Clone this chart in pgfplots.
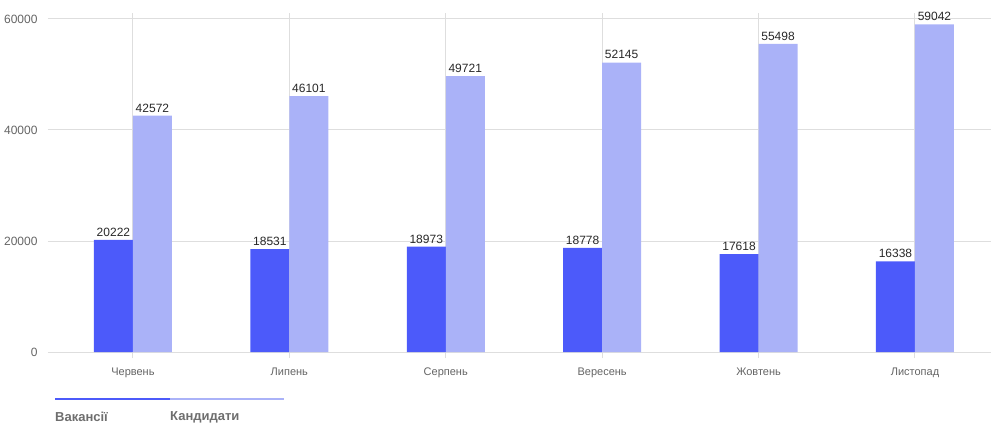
\documentclass[border=0pt]{standalone}
\usepackage{pgfplots}
\pgfplotsset{compat=1.18}
\usepackage{fontspec}
\setmainfont{Liberation Sans}
\definecolor{vac}{RGB}{76,90,250}
\definecolor{cand}{RGB}{170,178,248}
\definecolor{gridc}{RGB}{222,222,222}
\definecolor{tickc}{RGB}{100,100,100}
\definecolor{labc}{RGB}{40,40,40}
\definecolor{legc}{RGB}{110,110,110}
\begin{document}
\begin{tikzpicture}[x=1pt,y=1pt]
\useasboundingbox (-48,-72) rectangle (943,352);
\begin{axis}[
  at={(0,0)}, anchor=south west,
  scale only axis, width=943pt, height=339pt,
  xmin=-0.543, xmax=5.486,
  ymin=0, ymax=61080,
  xtick={0,1,2,3,4,5},
  xticklabels={Червень,Липень,Серпень,Вересень,Жовтень,Листопад},
  ytick={0,20000,40000,60000},
  scaled y ticks=false,
  yticklabel style={/pgf/number format/fixed,/pgf/number format/set thousands separator={},/pgf/number format/assume math mode=true, font=\fontsize{12}{14}\selectfont, text=tickc, xshift=-1pt},
  xticklabel style={font=\fontsize{11}{13}\selectfont, text=tickc, yshift=-6pt},
  xmajorgrids, ymajorgrids,
  grid style={gridc, line width=1pt},
  axis line style={draw=none},
  xtick pos=bottom, ytick pos=left,
  xtick style={gridc, line width=1pt},
  ytick style={draw=none},
  tick align=outside,
  major tick length=6pt,
  ybar, bar width=39pt,
  nodes near coords={\pgfmathprintnumber[fixed,precision=0,set thousands separator={},assume math mode=true]{\pgfplotspointmeta}},
  nodes near coords style={font=\fontsize{12}{14}\selectfont, text=labc, yshift=0pt},
]
\addplot[fill=vac, draw=none, bar shift=-19.5pt] coordinates {(0,20222) (1,18531) (2,18973) (3,18778) (4,17618) (5,16338)};
\addplot[fill=cand, draw=none, bar shift=19.5pt] coordinates {(0,42572) (1,46101) (2,49721) (3,52145) (4,55498) (5,59042)};
\end{axis}
\draw[vac, line width=2.5pt] (7,-47) -- (122,-47);
\draw[cand, line width=2.5pt] (122,-47) -- (236,-47);
\node[anchor=west, inner sep=0, text=legc, font=\fontsize{13}{15}\selectfont\bfseries] at (7,-65) {Вакансії};
\node[anchor=west, inner sep=0, text=legc, font=\fontsize{13}{15}\selectfont\bfseries] at (122,-65) {Кандидати};
\end{tikzpicture}
\end{document}
